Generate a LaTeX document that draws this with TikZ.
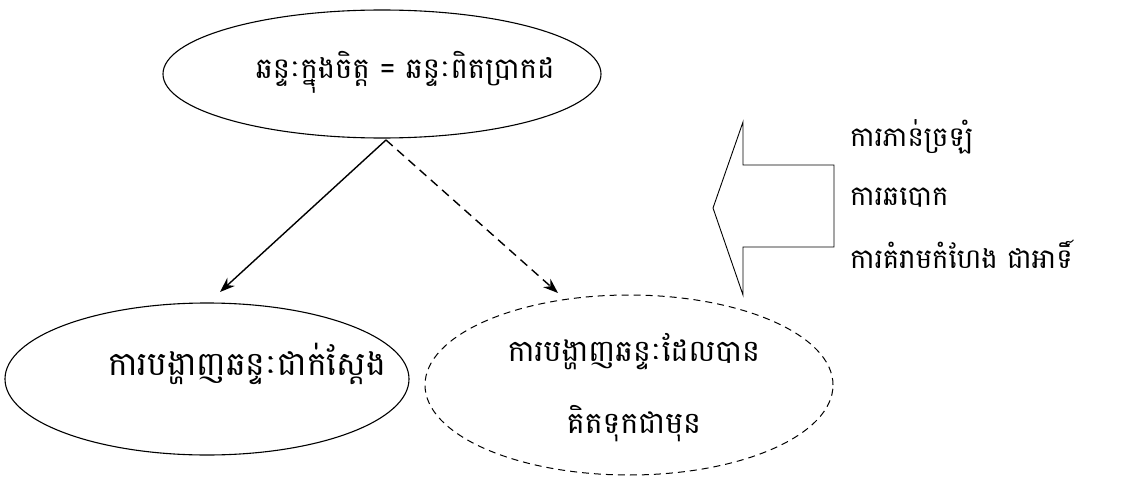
\documentclass[tikz,border=0pt]{standalone}
\usepackage{fontspec}
\newfontfamily\khmer[Script=Khmer]{Battambang}
\usetikzlibrary{shapes.geometric,arrows.meta}
\tikzset{
  ell/.style={draw, ellipse, line width=1.1pt, inner sep=0pt},
  dell/.style={ell, dash pattern=on 7pt off 5pt, line width=1pt},
  txt/.style={font=\khmer\fontsize{30}{72}\selectfont, inner sep=0pt, align=center},
  rtxt/.style={font=\khmer\fontsize{27.5}{30}\selectfont, inner sep=0pt, anchor=west},
  conn/.style={line width=1.4pt, -{Stealth[length=15pt,width=11pt]}},
  dconn/.style={conn, dash pattern=on 9pt off 6pt},
  blockarrow/.style={draw, line width=0.9pt}
}
\begin{document}
\begin{tikzpicture}[x=1pt,y=-1pt]
\useasboundingbox (0,0) rectangle (1123,476);
\node[ell, minimum width=438pt, minimum height=128pt] (top) at (382,74) {};
\node[txt, font=\khmer\fontsize{29}{36}\selectfont] (toptext) at (405,72) {ឆន្ទៈក្នុងចិត្ត = ឆន្ទៈពិតប្រាកដ};
\node[ell, minimum width=404pt, minimum height=152pt] (left) at (207,379) {};
\node[txt, font=\khmer\fontsize{33}{40}\selectfont] (lefttext) at (247,364) {ការបង្ហាញឆន្ទៈជាក់ស្តែង};
\node[dell, minimum width=408pt, minimum height=180pt] (right) at (629,385) {};
\node[txt] (righttext) at (634,388) {ការបង្ហាញឆន្ទៈដែលបាន\\គិតទុកជាមុន};
\coordinate (start) at (386,140);
\coordinate (e1) at (220,292);
\coordinate (e2) at (558,293);
\draw[conn] (start) -- (e1);
\draw[dconn] (start) -- (e2);
\coordinate (tip) at (713,208);
\draw[blockarrow] (tip) -- (743,122) -- (743,165) -- (834,165) -- (834,247) -- (743,247) -- (743,295) -- cycle;
\node[rtxt] (r1) at (850,137) {ការភាន់ច្រឡំ};
\node[rtxt] (r2) at (850,198) {ការឆបោក};
\node[rtxt] (r3) at (850,254) {ការគំរាមកំហែង ជាអាទិ៍};
\end{tikzpicture}
\end{document}
